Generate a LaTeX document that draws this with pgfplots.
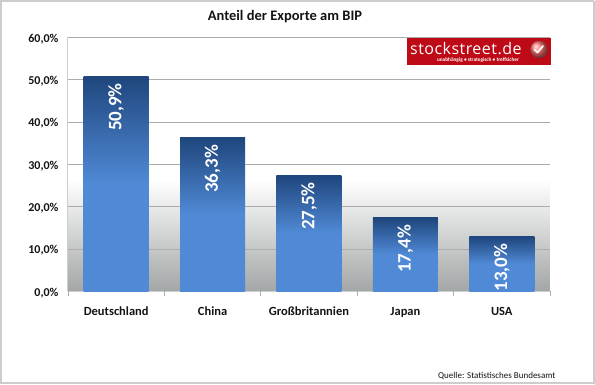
\documentclass[border=0pt]{standalone}
\usepackage{pgfplots}
\pgfplotsset{compat=1.18}
\usepackage{fontspec}
\setmainfont{Carlito}
\newfontfamily\logofont[LetterSpace=3]{Open Sans}
\definecolor{frameg}{RGB}{205,205,205}
\definecolor{gridg}{RGB}{172,172,172}
\definecolor{lab}{RGB}{20,20,20}
\definecolor{bardark}{RGB}{31,70,125}
\definecolor{barlight}{RGB}{80,138,214}
\definecolor{bglow}{RGB}{163,166,166}
\definecolor{logored}{RGB}{190,10,22}
\pgfdeclareverticalshading{barshade}{100bp}{color(0bp)=(barlight); color(50bp)=(barlight); color(75bp)=(bardark); color(100bp)=(bardark)}
\pgfdeclareverticalshading{bgshade}{100bp}{color(0bp)=(bglow); color(25bp)=(bglow); color(47bp)=(white); color(100bp)=(white)}
\pgfplotsset{barstyle/.style={ybar, bar width=65pt, bar shift=0pt, shading=barshade, draw=none,
  nodes near coords={\pgfmathprintnumber{\pgfplotspointmeta}\%},
  every node near coord/.append style={rotate=90, anchor=east, inner xsep=7pt, inner ysep=0pt, text=white, font=\fontsize{19}{21}\selectfont\bfseries,
   /pgf/number format/.cd, fixed, fixed zerofill, precision=1, use comma, assume math mode=true}}}
\begin{document}
\begin{tikzpicture}[x=1pt,y=1pt]
\useasboundingbox (0,0) rectangle (595,385);
\fill[white] (0,0) rectangle (595,385);
\draw[frameg, line width=2pt] (1,1) -- (1,384) -- (594,384);
\draw[frameg, line width=2pt] (0,1.5) -- (594,1.5);
\draw[frameg, line width=2pt] (593.5,1) -- (593.5,384);
\begin{axis}[
  at={(68pt,93.5pt)}, anchor=south west,
  scale only axis, width=482pt, height=254pt,
  xmin=-0.5, xmax=4.5, ymin=0, ymax=60,
  axis x line=bottom, axis y line=left,
  axis line style={-},
  x axis line style={draw=frameg, line width=1pt},
  y axis line style={draw=frameg, line width=1pt},
  axis background/.style={shading=bgshade},
  xtick={0,1,2,3,4},
  xticklabels={Deutschland,China,Großbritannien,Japan,USA},
  xticklabel style={text=lab, font=\fontsize{12.5}{14}\selectfont\bfseries, yshift=-12pt, anchor=north},
  major tick length=0pt,
  extra x ticks={-0.5,0.5,1.5,2.5,3.5,4.5},
  extra x tick labels={},
  extra x tick style={tick style={draw=gridg, line width=0.8pt}, major tick length=5pt, tickwidth=5pt, xtick pos=bottom, tick align=outside},
  ytick={0,10,20,30,40,50,60},
  yticklabel={\pgfmathprintnumber{\tick}\%},
  yticklabel style={text=lab, font=\fontsize{12}{14}\selectfont\bfseries, xshift=-6pt, yshift=-1.5pt,
    /pgf/number format/.cd, fixed, fixed zerofill, precision=1, use comma, assume math mode=true},
  ymajorgrids, grid style={draw=gridg, line width=0.9pt},
  clip=false,
]
\addplot[barstyle] coordinates {(0,50.9)};
\addplot[barstyle] coordinates {(1,36.3)};
\addplot[barstyle] coordinates {(2,27.5)};
\addplot[barstyle] coordinates {(3,17.4)};
\addplot[barstyle] coordinates {(4,13.0)};
\end{axis}
% title and source
\node[text=lab, font=\fontsize{14.5}{16}\selectfont\bfseries] at (285,368.5) {Anteil der Exporte am BIP};
\node[text=lab, font=\fontsize{9}{11}\selectfont, anchor=east] at (559,9) {Quelle: Statistisches Bundesamt};
% logo
\fill[logored] (407,319.5) rectangle (551,347);
\node[white, anchor=west, inner sep=0pt, font=\fontsize{16}{18}\selectfont\logofont] at (410,336) {stockstreet.de};
\node[white, anchor=center, inner sep=0pt, font=\fontsize{5.3}{6}\selectfont\bfseries] at (478,325) {unabhängig • strategisch • treffsicher};
\shade[ball color=red!55!white] (539,335.5) circle (8.7);
\draw[white, line width=1.7pt, line cap=round, line join=round] (534.5,335.5) -- (537.5,332.5) -- (543,339);
\end{tikzpicture}
\end{document}
